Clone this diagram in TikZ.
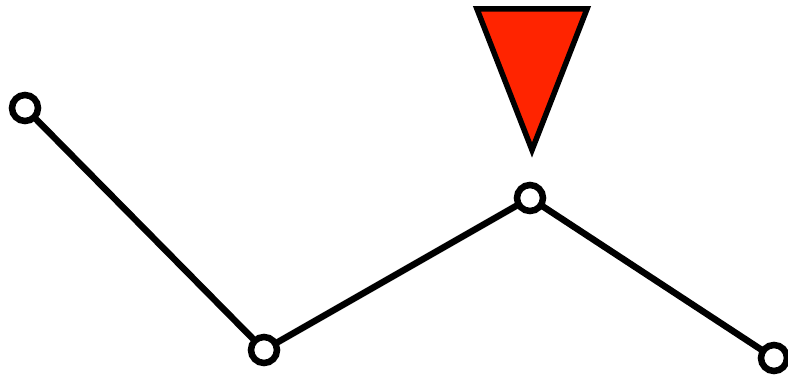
\documentclass[tikz,border=0pt]{standalone}
\definecolor{tri}{RGB}{255,36,0}
\tikzset{
  pt/.style={circle, draw=black, fill=white, line width=6.5pt, minimum size=26pt, inner sep=0pt, outer sep=0pt},
  edge/.style={line width=6.5pt, black}
}
\begin{document}
\begin{tikzpicture}[x=1pt,y=-1pt]
\useasboundingbox (0,0) rectangle (788,379);
\node[pt] (na) at (25,108) {};
\node[pt] (nb) at (264,350) {};
\node[pt] (nc) at (530,198) {};
\node[pt] (nd) at (774,358) {};
\draw[edge] (na) -- (nb);
\draw[edge] (nb) -- (nc);
\draw[edge] (nc) -- (nd);
\draw[line width=5.5pt, fill=tri, line join=miter] (477,9) -- (587,9) -- (532,150) -- cycle;
\end{tikzpicture}
\end{document}
